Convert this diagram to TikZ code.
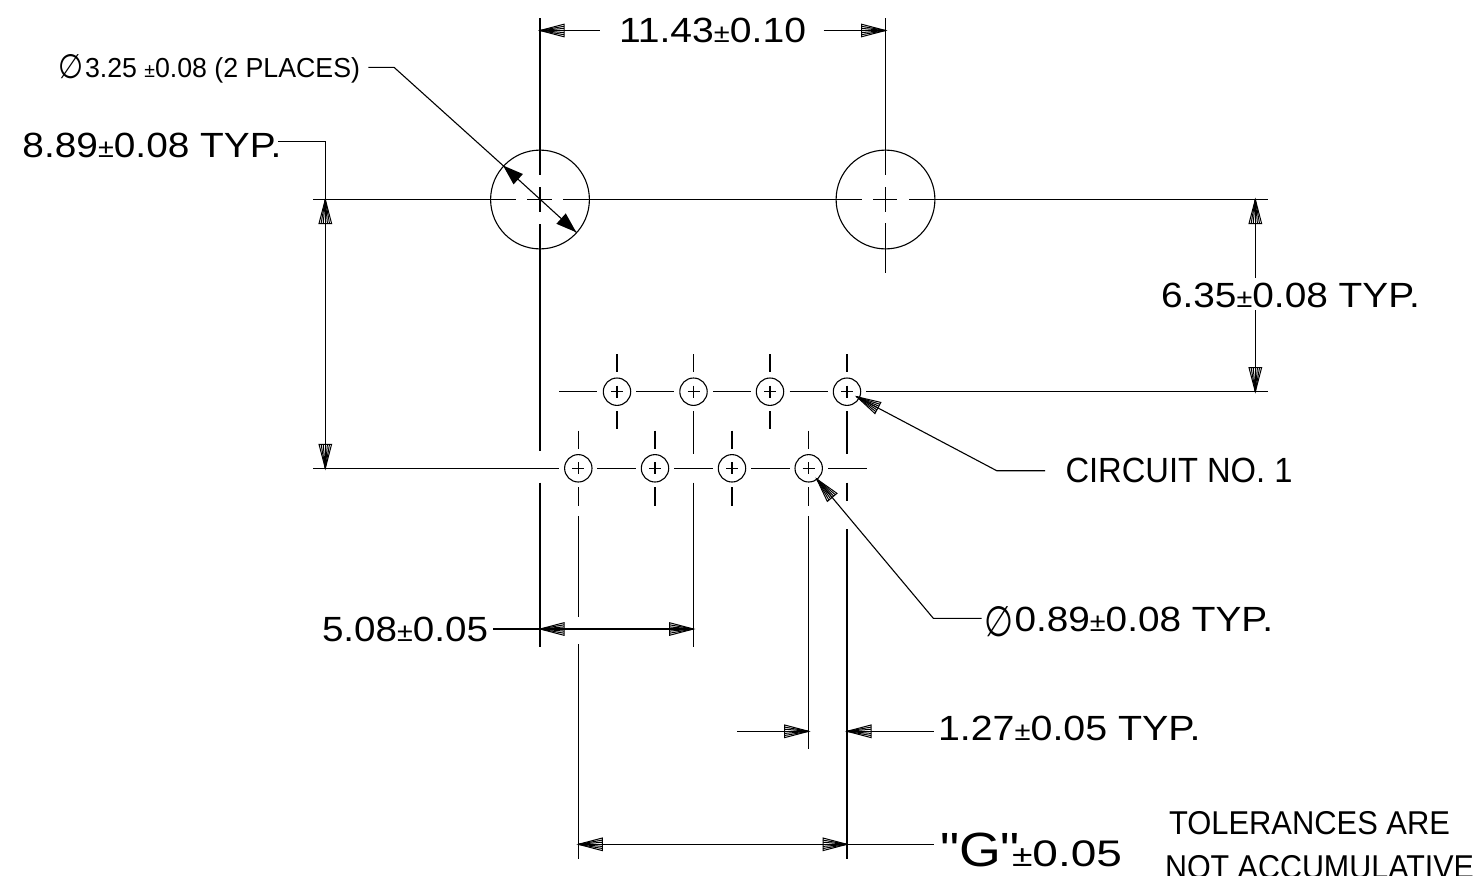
\documentclass[tikz,border=0pt]{standalone}
\usepackage{fontspec}
\setmainfont{Liberation Sans}
\newfontfamily\plainfont{Liberation Sans}
\newfontfamily\symfont{DejaVu Sans}
\newcommand{\lbl}[6]{\node[lbltext] (#1) at (#2,#3) {\resizebox{#4bp}{\height}{\fontsize{#5bp}{#5bp}\selectfont #6}};}
\newcommand{\pmsign}[1]{{\fontsize{#1bp}{#1bp}\selectfont ±}}
\newcommand{\fan}[2]{\begin{scope}[shift={(#1)},rotate=#2]
  \draw[fanline] (0,0) -- (24,6.3) -- (24,-6.3) -- cycle;
  \foreach \d in {-4.2,-2.1,0,2.1,4.2}{\draw[fanline] (0,0) -- (24,\d);}
\end{scope}}
\newcommand{\solidtip}[2]{\begin{scope}[shift={(#1)},rotate=#2]
  \fill (0,0) -- (20.5,7) -- (20.5,-7) -- cycle;
\end{scope}}
\tikzset{
  lbltext/.style={anchor=base west,inner sep=0pt,outer sep=0pt},
  ln/.style={line width=1.1bp},
  fanline/.style={line width=1bp},
  hole/.style={circle,draw,line width=1.1bp,minimum size=27.4bp,inner sep=0pt,outer sep=0pt},
  bighole/.style={circle,draw,line width=1.1bp,minimum size=98.8bp,inner sep=0pt,outer sep=0pt},
  cross/.style={line width=1.1bp}
}
\begin{document}
\begin{tikzpicture}[x=1bp,y=-1bp]
\useasboundingbox (0,0) rectangle (1476,875);
\clip (0,0) rectangle (1476,875);
\fill[white] (0,0) rectangle (1476,875);

% holes
\node[bighole] (B1) at (540,199.5) {};
\node[bighole] (B2) at (885.5,199.5) {};
\foreach \n/\x in {T1/617,T2/693.5,T3/770,T4/847}{
  \node[hole] (\n) at (\x,391.7) {};
  \draw[cross] (\x-6,391.7) -- (\x+6,391.7) (\x,385.7) -- (\x,397.7);
  \draw[ln] (\x,354) -- (\x,372.3);
}
\foreach \n/\x in {U1/578.3,U2/655,U3/732,U4/808.7}{
  \node[hole] (\n) at (\x,468.3) {};
  \draw[cross] (\x-6,468.3) -- (\x+6,468.3) (\x,462.3) -- (\x,474.3);
  \draw[ln] (\x,430.7) -- (\x,449) (\x,487.3) -- (\x,505.7);
}

% centre lines, horizontal
\draw[ln] (313,199.5) -- (516,199.5) (527,199.5) -- (552,199.5) (563,199.5) -- (862,199.5)
          (873,199.5) -- (897,199.5) (909,199.5) -- (1267.7,199.5);
\draw[ln] (559.3,391.7) -- (597.3,391.7) (636,391.7) -- (674,391.7) (713,391.7) -- (751,391.7)
          (789.7,391.7) -- (828,391.7) (866,391.7) -- (1267.7,391.7);
\draw[ln] (313,468.3) -- (558.7,468.3) (597.3,468.3) -- (636,468.3) (674,468.3) -- (713,468.3)
          (751,468.3) -- (789.7,468.3) (828,468.3) -- (866.7,468.3);

% centre / extension lines, vertical
\draw[ln] (540,18) -- (540,175) (540,187) -- (540,212) (540,224) -- (540,451) (540,482.7) -- (540,646.7);
\draw[ln] (885.5,18) -- (885.5,175) (885.5,187) -- (885.5,212) (885.5,223) -- (885.5,273);
\draw[ln] (617,411) -- (617,429) (770,411) -- (770,429);
\draw[ln] (693.5,411) -- (693.5,453.7) (693.5,482.7) -- (693.5,646.7);
\draw[ln] (847,411) -- (847,453.7) (847,482.7) -- (847,500.7) (847,529) -- (847,859);
\draw[ln] (578.3,516) -- (578.3,616.7) (578.3,644) -- (578.3,859);
\draw[ln] (808.7,516) -- (808.7,749);

% 11.43 dimension
\draw[ln] (540,30.5) -- (600,30.5) (823.7,30.5) -- (885.5,30.5);
\fan{540,30.5}{0}
\fan{885.5,30.5}{180}
\lbl{d1143}{619}{42}{187}{35}{11.43\pmsign{26}0.10}

% 3.25 leader with solid arrows
\coordinate (a0) at (368.4,67.3);
\coordinate (a1) at (394,67.3);
\coordinate (a2) at (503,165.5);
\coordinate (a3) at (576.3,232.3);
\draw[ln] (a0) -- (a1) -- (a2) -- (a3);
\solidtip{a2}{-42}
\solidtip{a3}{138}
\node[inner sep=0pt] (dia1) at (70.5,67) {\resizebox{25bp}{24bp}{\symfont ∅}};
\lbl{d325}{85}{77.3}{275}{27.5}{3.25 \pmsign{20}0.08 (2 PLACES)}

% 8.89 dimension
\coordinate (b0) at (278,141.5);
\coordinate (b1) at (325.3,141.5);
\coordinate (b2) at (325.3,468.3);
\draw[ln] (b0) -- (b1) -- (b2);
\fan{325.3,199.5}{270}
\fan{b2}{90}
\lbl{d889}{22.5}{157.7}{259}{35}{8.89\pmsign{26}0.08 TYP.}

% 6.35 dimension
\draw[ln] (1255.3,199.5) -- (1255.3,278) (1255.3,310) -- (1255.3,391.7);
\fan{1255.3,199.5}{270}
\fan{1255.3,391.7}{90}
\lbl{d635}{1161}{307.7}{259}{35}{6.35\pmsign{26}0.08 TYP.}

% circuit no. 1 leader
\coordinate (c0) at (1045,470.7);
\coordinate (c1) at (996.7,470.7);
\coordinate (c2) at (856.7,396.7);
\draw[ln] (c0) -- (c1) -- (c2);
\fan{c2}{-28}
\lbl{dcirc}{1065.5}{482.3}{227}{35}{CIRCUIT NO. 1}

% 0.89 leader
\coordinate (e0) at (981.7,618.3);
\coordinate (e1) at (933.3,618.3);
\coordinate (e2) at (816.7,479);
\draw[ln] (e0) -- (e1) -- (e2);
\fan{e2}{-50}
\node[inner sep=0pt] (dia2) at (999,621.7) {\resizebox{29bp}{30bp}{\symfont ∅}};
\lbl{d089}{1014.5}{631.7}{258.5}{35}{0.89\pmsign{26}0.08 TYP.}

% 5.08 dimension
\draw[ln] (493.3,629) -- (693.5,629);
\fan{540,629}{0}
\fan{693.5,629}{180}
\lbl{d508}{322}{641}{166}{35}{5.08\pmsign{26}0.05}

% 1.27 dimension
\draw[ln] (737.3,731.3) -- (808.7,731.3) (847,731.3) -- (933.8,731.3);
\fan{808.7,731.3}{180}
\fan{847,731.3}{0}
\lbl{d127}{938}{740}{262.5}{35}{1.27\pmsign{26}0.05 TYP.}

% G dimension
\draw[ln] (578.3,844.3) -- (933.8,844.3);
\fan{578.3,844.3}{0}
\fan{847,844.3}{180}
\node[lbltext] (dG) at (940,866.7) {\resizebox{80bp}{\height}{\plainfont\fontsize{48bp}{48bp}\selectfont "G"}\kern-8bp\resizebox{110bp}{\height}{\fontsize{37bp}{37bp}\selectfont \pmsign{30}0.05}};

% note
\lbl{nt1}{1169}{834}{281}{33}{TOLERANCES ARE}
\lbl{nt2}{1165}{878}{309}{33}{NOT ACCUMULATIVE}
\end{tikzpicture}
\end{document}
